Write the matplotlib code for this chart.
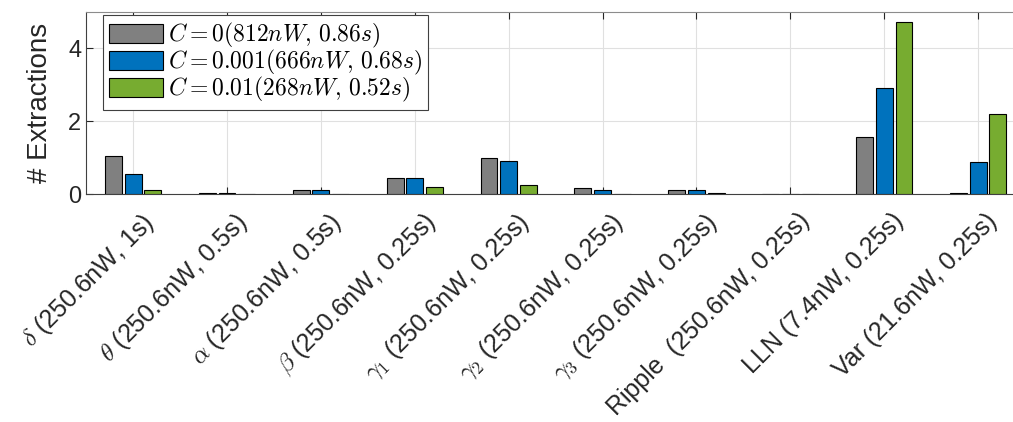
import numpy as np
import matplotlib
matplotlib.use('Agg')
from matplotlib import pyplot as plt
from matplotlib import transforms

plt.rcParams['font.family'] = ['Liberation Sans', 'DejaVu Sans']
plt.rcParams['mathtext.fontset'] = 'cm'

labels = [r'$\delta$ (250.6nW, 1s)', r'$\theta$ (250.6nW, 0.5s)', r'$\alpha$ (250.6nW, 0.5s)',
          r'$\beta$ (250.6nW, 0.25s)', r'$\gamma_1$ (250.6nW, 0.25s)', r'$\gamma_2$ (250.6nW, 0.25s)',
          r'$\gamma_3$ (250.6nW, 0.25s)', 'Ripple  (250.6nW, 0.25s)', 'LLN (7.4nW, 0.25s)',
          'Var (21.6nW, 0.25s)']
c0 = [1.04, 0.03, 0.10, 0.45, 0.99, 0.17, 0.10, 0.01, 1.58, 0.02]
c001 = [0.56, 0.03, 0.10, 0.45, 0.90, 0.11, 0.10, 0.01, 2.92, 0.88]
c01 = [0.11, 0.01, 0.01, 0.19, 0.25, 0.01, 0.03, 0.01, 4.72, 2.20]
names = [r'$C=0(812nW,\,0.86s)$', r'$C=0.001(666nW,\,0.68s)$', r'$C=0.01(268nW,\,0.52s)$']
colors = ['#808080', '#0072BD', '#77AC30']

x = np.arange(1, len(labels) + 1)
fig = plt.figure(figsize=(10.13, 4.22), dpi=100)
ax = fig.add_axes([0.085, 0.54, 0.927, 0.432])

w = 0.18
step = 0.21
for i, (vals, name, col) in enumerate(zip([c0, c001, c01], names, colors)):
    ax.bar(x + (i - 1) * step, vals, width=w, color=col, edgecolor='black', linewidth=0.8,
           label=name, zorder=3)

ax.set_xlim(0.5, 10.5)
ax.set_ylim(0, 5)
ax.set_yticks([0, 2, 4])
ax.set_xticks(x)
ax.tick_params(axis='y', labelsize=17, direction='in', right=False, length=5, colors='#262626')
ax.tick_params(axis='x', direction='in', top=True, length=5, colors='#262626', labelcolor='#262626')
ax.set_xticklabels(labels, rotation=45, ha='right', rotation_mode='anchor', fontsize=18)
# nudge the rotated labels down and right (after tick_params, which resets transforms)
offset = transforms.ScaledTranslation(0.07, -0.10, fig.dpi_scale_trans)
for t in ax.get_xticklabels():
    t.set_transform(t.get_transform() + offset)
ax.grid(True, color='#e0e0e0', linewidth=0.8, zorder=0)
ax.set_axisbelow(True)
for s in ax.spines.values():
    s.set_color('#404040')
ax.spines['top'].set_color('#8c8c8c')
ax.set_ylabel('# Extractions', fontsize=20, color='#262626', labelpad=11)

leg = ax.legend(loc='upper left', bbox_to_anchor=(0.018, 0.98), fontsize=17, fancybox=False,
                framealpha=1, edgecolor='#404040', handlelength=2.3, handleheight=0.85,
                borderaxespad=0.0, labelspacing=-0.1, handletextpad=0.2, borderpad=0.25)
leg.get_frame().set_linewidth(0.8)

fig.savefig('out.png', dpi=100)
